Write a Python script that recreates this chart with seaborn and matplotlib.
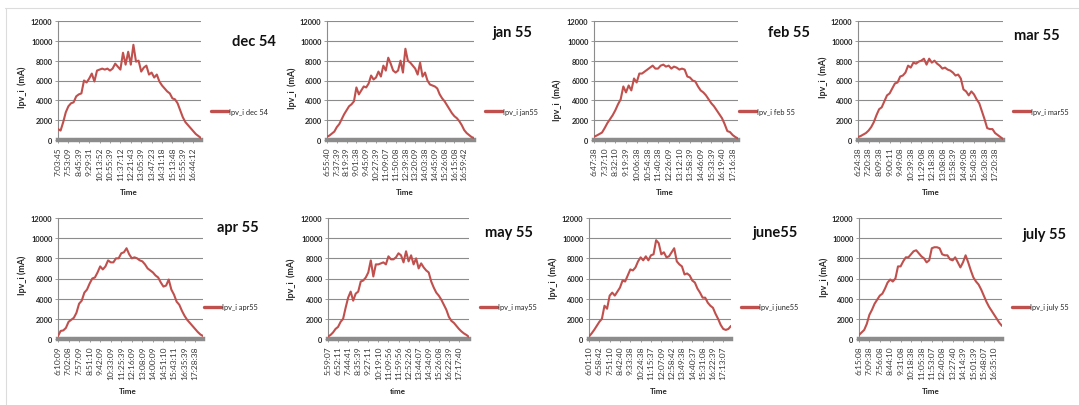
import numpy as np
import pandas as pd
import matplotlib
matplotlib.use("Agg")
import matplotlib.pyplot as plt
import seaborn as sns
from matplotlib.lines import Line2D
from matplotlib.transforms import Bbox

# Ipv_i readings (mA), one value per logged sample of the day
dec54 = [1100, 950, 1800, 2800, 3400, 3700, 3800, 4400, 4600, 4700, 6000, 5800, 6200, 6700,
         5900, 7000, 7100, 7200, 7100, 7200, 7000, 7200, 7700, 7400, 7100, 8800, 7600, 8900,
         7600, 9600, 7900, 8000, 6900, 7300, 7500, 6600, 6800, 6300, 6600, 5900, 5500, 5200,
         4900, 4700, 4200, 4100, 3700, 3000, 2300, 1800, 1500, 1200, 900, 600, 400, 200]
jan55 = [330, 450, 650, 850, 1300, 1600, 2100, 2600, 3000, 3400, 3600, 3900, 5300, 4600,
         5000, 5400, 5300, 5700, 6500, 6100, 6300, 6900, 6400, 7500, 7000, 8300, 7700, 7000,
         6800, 7000, 8000, 6800, 9200, 8000, 7800, 7500, 7200, 6600, 7800, 6400, 6800, 6000,
         5600, 5500, 5400, 5200, 4600, 4200, 3900, 3500, 3100, 2700, 2400, 2200, 1900, 1500,
         1000, 700, 500, 300, 200]
feb55 = [330, 450, 600, 750, 1200, 1700, 2100, 2500, 3000, 3600, 4100, 5400, 4800, 5500,
         5000, 6200, 5800, 6700, 6700, 6900, 7100, 7300, 7500, 7200, 7200, 7500, 7600, 7400,
         7500, 7200, 7400, 7300, 7100, 7200, 7100, 6400, 6300, 6000, 5900, 5400, 5000, 4800,
         4500, 4100, 3700, 3400, 3000, 2600, 2200, 1600, 900, 800, 500, 300, 150]
mar55 = [300, 400, 550, 700, 950, 1300, 1800, 2500, 3100, 3300, 3900, 4500, 4700, 5200,
         5700, 5800, 6400, 6500, 6800, 7500, 7300, 7800, 7700, 7900, 8000, 8200, 7600, 8200,
         7800, 8000, 7700, 7500, 7200, 7300, 7100, 7000, 6800, 6500, 6600, 6200, 5100, 4900,
         4500, 4900, 4600, 4100, 3700, 2900, 2100, 1200, 1100, 1100, 700, 500, 300, 100]
apr55 = [300, 800, 850, 1100, 1700, 1900, 2100, 2600, 3500, 3800, 4600, 4900, 5500, 6000,
         6100, 6600, 7200, 6900, 7200, 7800, 7600, 7600, 8000, 8000, 8500, 8600, 9000, 8400,
         8000, 8100, 8000, 7800, 7700, 7400, 7000, 6800, 6600, 6300, 6100, 5600, 5200, 5300,
         5900, 4900, 4400, 3700, 3400, 2800, 2300, 1900, 1600, 1300, 1000, 700, 450, 300]
may55 = [250, 400, 650, 1000, 1200, 1700, 2000, 3100, 4100, 4700, 3800, 4500, 4700, 5700,
         5800, 6100, 6600, 7800, 6200, 7400, 7400, 7500, 7600, 7400, 8200, 7900, 7900, 8100,
         8500, 8300, 7600, 8700, 7700, 8300, 7400, 8000, 7000, 7500, 7100, 6800, 6600, 5700,
         5100, 4600, 4300, 3900, 3400, 2900, 2200, 1800, 1600, 1300, 1000, 750, 550, 400, 200]
june55 = [250, 550, 900, 1300, 1700, 2000, 3300, 3000, 4300, 4600, 4300, 4700, 5100, 5800,
          5700, 6300, 6900, 6800, 7100, 7700, 8100, 7800, 8200, 7800, 8300, 8400, 9800, 9500,
          8400, 8600, 8100, 8200, 8600, 9000, 7700, 7400, 7200, 6400, 6500, 6300, 5800, 5600,
          5000, 4600, 4100, 4100, 3600, 3300, 3100, 2500, 2000, 1400, 1000, 900, 1000, 1300]
july55 = [400, 650, 900, 1500, 2400, 2900, 3500, 3900, 4300, 4500, 5000, 5600, 5900, 5700,
          6000, 7200, 7200, 7700, 8100, 8100, 8400, 8700, 8800, 8500, 8200, 8000, 7600, 7800,
          9000, 9100, 9100, 9000, 8400, 8300, 8300, 7900, 7800, 8100, 7600, 7100, 7600, 8300,
          7600, 6800, 6100, 5700, 5400, 4900, 4300, 3700, 3200, 2800, 2400, 2000, 1600, 1300]

# time stamps shown on the category axis (every 4th sample)
dec54_times = ["7:03:45", "7:53:09", "8:45:39", "9:29:31", "10:13:52", "10:55:39", "11:37:12",
               "12:21:43", "13:05:39", "13:47:23", "14:31:18", "15:13:48", "15:55:39", "16:44:12"]
jan55_times = ["6:55:40", "7:37:39", "8:19:39", "9:01:38", "9:45:09", "10:27:39", "11:09:07",
               "11:50:08", "12:39:38", "13:20:09", "14:03:38", "14:45:09", "15:26:08", "16:15:08",
               "16:59:42"]
feb55_times = ["6:47:38", "7:37:10", "8:32:10", "9:19:39", "10:06:38", "10:54:38", "11:40:38",
               "12:26:09", "13:12:10", "13:58:39", "14:46:09", "15:33:39", "16:19:40", "17:16:38"]
mar55_times = ["6:24:38", "7:20:38", "8:09:38", "9:00:11", "9:49:08", "10:39:38", "11:29:08",
               "12:18:38", "13:08:08", "13:58:39", "14:49:08", "15:40:38", "16:30:38", "17:20:38"]
apr55_times = ["6:10:09", "7:02:08", "7:57:09", "8:51:10", "9:42:09", "10:33:09", "11:25:39",
               "12:16:09", "13:08:09", "14:00:09", "14:51:10", "15:43:11", "16:35:39", "17:28:38"]
may55_times = ["5:59:07", "6:52:11", "7:44:41", "8:35:39", "9:27:11", "10:19:10", "11:09:56",
               "11:59:56", "12:52:26", "13:44:07", "14:34:09", "15:26:08", "16:22:39", "17:17:40"]
june55_times = ["6:01:10", "6:58:42", "7:51:10", "8:42:40", "9:33:38", "10:24:38", "11:15:37",
                "12:07:09", "12:58:42", "13:49:38", "14:40:37", "15:31:08", "16:22:39", "17:13:07"]
july55_times = ["6:15:08", "7:09:38", "7:56:08", "8:44:10", "9:31:08", "10:18:38", "11:05:38",
                "11:53:07", "12:40:08", "13:27:40", "14:14:39", "15:01:39", "15:48:07", "16:35:10"]

titles = ["dec 54", "jan 55", "feb 55", "mar 55", "apr 55", "may 55", "june55", "july 55"]
series_names = ["Ipv_i dec 54", "Ipv_i jan55", "Ipv_i feb 55", "Ipv_i mar55",
                "Ipv_i apr55", "Ipv_i may55", "Ipv_i june55", "Ipv_i july 55"]
y_titles = ["Ipv_i  (mA)", "Ipv_i  (mA)", "Ipv_i  (mA)", "Ipv_i  (mA)",
            "Ipv_i (mA)", "Ipv_i  (mA)", "Ipv_i  (mA)", "Ipv_i (mA)"]
x_titles = ["Time", "Time", "Time", "Time", "Time", "time", "Time", "Time"]

values = [dec54, jan55, feb55, mar55, apr55, may55, june55, july55]
times = [dec54_times, jan55_times, feb55_times, mar55_times,
         apr55_times, may55_times, june55_times, july55_times]

# pixel layout of each small chart:
# plot box (l, r, t, b), y title, x title, chart title, legend anchor, right clip edge
layout = [
    ((58, 201, 22, 141), (22, 87), (129, 193), (232, 42), (211, 112), 270),
    ((327, 474, 22, 141), (292, 88), (405, 193), (493, 33), (485, 112), 540),
    ((594, 738, 22, 141), (557, 100), (665, 193), (768, 33), (739, 112), 810),
    ((858, 1003, 22, 141), (823, 77), (931, 193), (1014, 36), (1013, 112), 1079),
    ((58, 203, 219, 340), (22, 275), (128, 392), (217, 228), (204, 308), 270),
    ((328, 469, 219, 340), (291, 279), (398, 392), (485, 233), (480, 308), 540),
    ((589, 731, 219, 340), (553, 278), (659, 392), (753, 233), (741, 308), 810),
    ((859, 1002, 219, 340), (824, 277), (931, 392), (1023, 235), (1012, 308), 1079),
]

W, H = 1079, 406
RED = "#c0504d"
GREY = "#8c8c8c"
TEXT = "#262626"

sns.set_theme(style="white")
plt.rcParams["font.family"] = ["Lato", "DejaVu Sans"]

fig = plt.figure(figsize=(W / 100, H / 100), dpi=100)
fig.patch.set_facecolor("white")


def fx(x):
    return x / W


def fy(y):
    return 1 - y / H


# thin frame lines of the chart sheet
fig.add_artist(Line2D([fx(5), 1], [fy(9), fy(9)], color="#dcdcdc", lw=0.8))
fig.add_artist(Line2D([fx(6), fx(6)], [fy(9), 0], color="#dcdcdc", lw=0.8))

for vals, ticks, title, sname, ytl, xtl, lay in zip(values, times, titles, series_names,
                                                     y_titles, x_titles, layout):
    (l, r, t, b), (yx, yy), (xx, xy), (tx, ty), (lx, ly), clip_r = lay
    ax = fig.add_axes([fx(l), fy(b), (r - l) / W, (b - t) / H])
    df = pd.DataFrame({"sample": np.arange(len(vals)), "Ipv_i": vals})
    sns.lineplot(data=df, x="sample", y="Ipv_i", ax=ax, color=RED, linewidth=1.5,
                 legend=False, zorder=3)

    ax.set_xlim(0, len(vals) - 1)
    ax.set_ylim(0, 12000)
    ax.set_yticks(np.arange(0, 12001, 2000))
    ax.set_xticks(np.arange(0, 4 * len(ticks), 4))
    ax.set_xticklabels(ticks, rotation=90, fontsize=6, color="#3a3a3a")
    ax.set_yticklabels([str(v) for v in range(0, 12001, 2000)], fontsize=5.4,
                       fontweight="bold", color=TEXT)
    ax.set_xlabel("")
    ax.set_ylabel("")

    ax.set_axisbelow(True)
    ax.yaxis.grid(True, color=GREY, lw=0.8)
    ax.xaxis.grid(False)
    for side in ("top", "right"):
        ax.spines[side].set_visible(False)
    ax.spines["left"].set_color(GREY)
    ax.spines["left"].set_linewidth(0.8)
    ax.spines["bottom"].set_color(GREY)
    ax.spines["bottom"].set_linewidth(3.2)
    ax.spines["bottom"].set_zorder(2)
    ax.tick_params(axis="y", length=2.5, width=0.6, color=GREY, pad=1.5, left=True)
    ax.tick_params(axis="x", length=2.0, width=0.6, color=GREY, pad=2.5, bottom=True)

    fig.text(fx(yx), fy(yy), ytl, rotation=90, ha="center", va="center",
             fontsize=6.4, fontweight="bold", color=TEXT)
    fig.text(fx(xx), fy(xy), xtl, ha="center", va="center",
             fontsize=5.8, fontweight="bold", color=TEXT)
    fig.text(fx(tx), fy(ty), title, ha="left", va="center",
             fontsize=10.5, fontweight="bold", color="#111111")

    handle = Line2D([], [], color=RED, lw=2.4)
    leg = ax.legend([handle], [sname], loc="center left",
                    bbox_to_anchor=(fx(lx), fy(ly)), bbox_transform=fig.transFigure,
                    frameon=False, fontsize=5.3, handlelength=2.3, handletextpad=0.08,
                    borderpad=0, borderaxespad=0)
    clip = Bbox.from_extents(0, 0, clip_r, H)
    for txt in leg.get_texts():
        txt.set_color(TEXT)
        txt.set_clip_box(clip)
        txt.set_clip_on(True)

fig.savefig("out.png", dpi=100, facecolor="white")
